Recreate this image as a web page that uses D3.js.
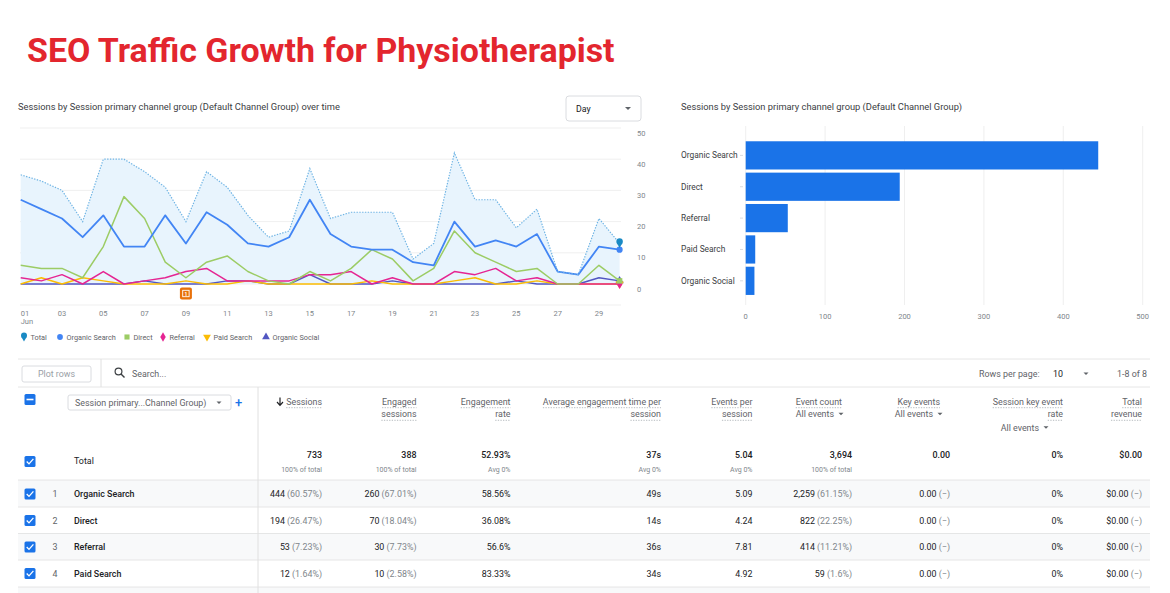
<!DOCTYPE html>
<html>
<head>
<meta charset="utf-8">
<script src="https://cdn.jsdelivr.net/npm/d3@7"></script>
<style>
  body { margin: 0; background: #fff; }
  svg { display: block; font-family: Roboto, "Noto Sans", sans-serif; }
</style>
</head>
<body>
<div id="page"></div>
<script>
// ---- data ----
const days = ["01","02","03","04","05","06","07","08","09","10","11","12","13","14","15",
              "16","17","18","19","20","21","22","23","24","25","26","27","28","29","30"];
const dayTicks = ["01","03","05","07","09","11","13","15","17","19","21","23","25","27","29"];
const yTicks = [0, 10, 20, 30, 40, 50];

const totalSessions    = [35,33,30,20,40,40,36,31,20,36,31,22,15,17,37,21,23,23,23,8,13,42,27,27,18,24,4,3,21,13];
const organicSearch    = [27,24,21,15,22,12,12,22,13,23,19,13,12,15,27,16,12,11,11,7,6,20,12,14,12,16,4,3,12,11];
const directSessions   = [6,5,5,2,12,28,21,7,2,7,9,4,1,0,4,1,5,11,8,1,5,17,10,7,4,5,0,0,6,1];
const referralSessions = [2,1,3,0,4,0,1,2,4,5,1,1,1,1,3,3,4,0,2,0,0,4,3,5,1,2,0,0,0,0];
const paidSessions     = [0,2,0,2,1,0,0,0,1,0,0,1,0,0,0,0,0,1,0,0,0,1,2,0,0,1,0,0,0,0];
const socialSessions   = [0,0,0,0,0,0,1,0,0,0,1,1,0,0,3,0,0,0,1,0,0,0,0,0,1,0,0,0,2,1];
const anomalyDay = "09";

const barChannels = ["Organic Search", "Direct", "Referral", "Paid Search", "Organic Social"];
const barSessions = [444, 194, 53, 12, 11];
const barTicks = [0, 100, 200, 300, 400, 500];

const rowChannels   = ["Organic Search", "Direct", "Referral", "Paid Search"];
const rowSessions   = ["444", "194", "53", "12"];
const rowSessPct    = ["60.57%", "26.47%", "7.23%", "1.64%"];
const rowEngaged    = ["260", "70", "30", "10"];
const rowEngPct     = ["67.01%", "18.04%", "7.73%", "2.58%"];
const rowEngRate    = ["58.56%", "36.08%", "56.6%", "83.33%"];
const rowAvgTime    = ["49s", "14s", "36s", "34s"];
const rowEventsPer  = ["5.09", "4.24", "7.81", "4.92"];
const rowEventCount = ["2,259", "822", "414", "59"];
const rowEventPct   = ["61.15%", "22.25%", "11.21%", "1.6%"];
const rowKeyEvents  = ["0.00", "0.00", "0.00", "0.00"];
const rowKeyRate    = ["0%", "0%", "0%", "0%"];
const rowRevenue    = ["$0.00", "$0.00", "$0.00", "$0.00"];

const totalValues = ["733", "388", "52.93%", "37s", "5.04", "3,694", "0.00", "0%", "$0.00"];
const totalSubs   = ["100% of total", "100% of total", "Avg 0%", "Avg 0%", "Avg 0%", "100% of total", "", "", ""];

// ---- page ----
const W = 1170, H = 593;
const svg = d3.select("#page").append("svg")
  .attr("width", W).attr("height", H);

const textDark = "#202124", textGrey = "#5f6368", gridCol = "#ebebeb";
const fsTable = 8.9;

// headline, sized to span the same width as the report header
const headline = svg.append("text")
  .attr("x", 27).attr("y", 62)
  .attr("fill", "#e3262e")
  .attr("font-size", 29).attr("font-weight", 700)
  .text("SEO Traffic Growth for Physiotherapist");
headline.attr("font-size", 29 * 588 / headline.node().getComputedTextLength());

// ================= line chart =================
const x = d3.scalePoint().domain(days).range([20.7, 619.6]);
const y = d3.scaleLinear().domain([0, 50]).range([284, 128]);

svg.append("text").attr("x", 18).attr("y", 110)
  .attr("font-size", 9.3).attr("fill", "#3c4043")
  .text("Sessions by Session primary channel group (Default Channel Group) over time");

// Day selector
const sel = svg.append("g");
sel.append("rect").attr("x", 566).attr("y", 96).attr("width", 75).attr("height", 25)
  .attr("rx", 3).attr("fill", "#fff").attr("stroke", "#dadce0");
sel.append("text").attr("x", 576).attr("y", 111.5).attr("font-size", 8.8).attr("fill", textDark).text("Day");
sel.append("path").attr("d", "M625,107 l6,0 l-3,3 z").attr("fill", textGrey);

// grid
svg.append("g").selectAll("line").data(yTicks).join("line")
  .attr("x1", 20).attr("x2", 621)
  .attr("y1", d => y(d)).attr("y2", d => y(d))
  .attr("stroke", gridCol).attr("stroke-width", 0.8);
svg.append("line").attr("x1", 20).attr("x2", 621).attr("y1", 305).attr("y2", 305)
  .attr("stroke", gridCol).attr("stroke-width", 0.8);

svg.append("g").selectAll("text").data(yTicks).join("text")
  .attr("x", 637).attr("y", d => y(d) + 5)
  .attr("dominant-baseline", "central")
  .attr("font-size", 7.5).attr("fill", "#80868b")
  .text(d => d);

svg.append("g").selectAll("text").data(dayTicks).join("text")
  .attr("x", d => x(d)).attr("y", 313)
  .attr("dominant-baseline", "central")
  .attr("text-anchor", (d, i) => i === 0 ? "start" : "middle")
  .attr("font-size", 7.5).attr("fill", "#80868b")
  .text(d => d);
svg.append("text").attr("x", x(days[0])).attr("y", 321)
  .attr("dominant-baseline", "central")
  .attr("font-size", 7.5).attr("fill", "#80868b").text("Jun");

const series = [
  { name: "Organic Search", values: organicSearch,    color: "#4285f4", w: 1.8, sym: d3.symbolCircle },
  { name: "Direct",         values: directSessions,   color: "#9ccc65", w: 1.5, sym: d3.symbolSquare },
  { name: "Referral",       values: referralSessions, color: "#e52592", w: 1.5, sym: d3.symbolDiamond },
  { name: "Paid Search",    values: paidSessions,     color: "#fbbc04", w: 1.5, sym: d3.symbolTriangle, rot: 180 },
  { name: "Organic Social", values: socialSessions,   color: "#5257c2", w: 1.5, sym: d3.symbolTriangle }
];

// total area + dotted line
svg.append("path")
  .datum(totalSessions)
  .attr("fill", "#e8f4fd")
  .attr("d", d3.area().x((d, i) => x(days[i])).y0(y(0)).y1(d => y(d)));

// draw small series first so bigger ones sit on top
[...series].reverse().forEach(s => {
  svg.append("path")
    .datum(s.values)
    .attr("fill", "none")
    .attr("stroke", s.color)
    .attr("stroke-width", s.w)
    .attr("stroke-linejoin", "round")
    .attr("d", d3.line().x((d, i) => x(days[i])).y(d => y(d)));
});

svg.append("path")
  .datum(totalSessions)
  .attr("fill", "none")
  .attr("stroke", "#6fb4e4")
  .attr("stroke-width", 1.2)
  .attr("stroke-dasharray", "1.4,1.4")
  .attr("d", d3.line().x((d, i) => x(days[i])).y(d => y(d)));

// end markers
const lastDay = days[days.length - 1];
[...series].reverse().forEach(s => {
  const v = s.values[s.values.length - 1];
  svg.append("path")
    .attr("d", d3.symbol().type(s.sym).size(30)())
    .attr("transform", `translate(${x(lastDay)},${y(v)}) rotate(${s.rot || 0})`)
    .attr("fill", s.color);
});
function pin(g, cx, cy, r, col) {
  g.append("circle").attr("cx", cx).attr("cy", cy - r * 0.3).attr("r", r).attr("fill", col);
  g.append("path").attr("d", `M${cx - r * 0.9},${cy + r * 0.1} L${cx + r * 0.9},${cy + r * 0.1} L${cx},${cy + r * 1.7} Z`).attr("fill", col);
}
pin(svg, x(lastDay), y(totalSessions[totalSessions.length - 1]) - 1, 3.2, "#1a8ac4");

// anomaly badge
const ax = x(anomalyDay);
svg.append("rect").attr("x", ax - 6).attr("y", 287.5).attr("width", 12).attr("height", 12)
  .attr("rx", 2).attr("fill", "#e8710a");
svg.append("rect").attr("x", ax - 3.2).attr("y", 290.3).attr("width", 6.4).attr("height", 6.4)
  .attr("fill", "none").attr("stroke", "#fff").attr("stroke-width", 0.9);
svg.append("text").attr("x", ax).attr("y", 293.6).attr("text-anchor", "middle")
  .attr("dominant-baseline", "central").attr("font-size", 5).attr("font-weight", 700)
  .attr("fill", "#fff").text("1");

// legend
const legendItems = [{ name: "Total", color: "#1a8ac4", total: true }].concat(series);
const legendX = [24, 60, 127, 163, 207, 266];
const lg = svg.append("g");
legendItems.forEach((s, i) => {
  const lx = legendX[i], ly = 337;
  if (s.total) pin(lg, lx, ly - 0.5, 3, s.color);
  else lg.append("path")
    .attr("d", d3.symbol().type(s.sym).size(26)())
    .attr("transform", `translate(${lx},${ly}) rotate(${s.rot || 0})`)
    .attr("fill", s.color);
  lg.append("text").attr("x", lx + 6.5).attr("y", ly).attr("dominant-baseline", "central")
    .attr("font-size", 7.3).attr("fill", textGrey).text(s.name);
});

// ================= bar chart =================
svg.append("text").attr("x", 681).attr("y", 110)
  .attr("font-size", 9.3).attr("fill", "#3c4043")
  .text("Sessions by Session primary channel group (Default Channel Group)");

const bx = d3.scaleLinear().domain([0, 500]).range([745.7, 1142.7]);
const by = d3.scaleBand().domain(barChannels).range([139.7, 296.5]).paddingInner(0.1).paddingOuter(0.05);

svg.append("g").selectAll("line").data(barTicks).join("line")
  .attr("x1", d => bx(d)).attr("x2", d => bx(d))
  .attr("y1", 126).attr("y2", 305)
  .attr("stroke", gridCol).attr("stroke-width", 0.8);
svg.append("g").selectAll("text").data(barTicks).join("text")
  .attr("x", d => bx(d)).attr("y", 316)
  .attr("text-anchor", "middle").attr("dominant-baseline", "central")
  .attr("font-size", 7.5).attr("fill", "#80868b").text(d => d);

svg.append("g").selectAll("rect").data(barChannels).join("rect")
  .attr("x", bx(0))
  .attr("y", d => by(d))
  .attr("width", (d, i) => bx(barSessions[i]) - bx(0))
  .attr("height", by.bandwidth())
  .attr("fill", "#1a73e8");

svg.append("g").selectAll("line").data(barChannels).join("line")
  .attr("x1", 740).attr("x2", 743)
  .attr("y1", d => by(d) + by.bandwidth() / 2).attr("y2", d => by(d) + by.bandwidth() / 2)
  .attr("stroke", "#dadce0");
svg.append("g").selectAll("text").data(barChannels).join("text")
  .attr("x", 681).attr("y", d => by(d) + by.bandwidth() / 2)
  .attr("dominant-baseline", "central")
  .attr("font-size", 8.4).attr("fill", "#3c4043").text(d => d);

// ================= table =================
const lineCol = "#e0e0e0";
const hline = yy => svg.append("line").attr("x1", 18).attr("x2", 1150).attr("y1", yy).attr("y2", yy)
  .attr("stroke", lineCol).attr("stroke-width", 0.8);

// zebra rows
const rowTop = [480, 507, 533.5, 560, 587];
svg.append("rect").attr("x", 18).attr("y", rowTop[0]).attr("width", 1132).attr("height", rowTop[1] - rowTop[0]).attr("fill", "#f8f9fa");
svg.append("rect").attr("x", 18).attr("y", rowTop[2]).attr("width", 1132).attr("height", rowTop[3] - rowTop[2]).attr("fill", "#f8f9fa");
svg.append("rect").attr("x", 18).attr("y", rowTop[4]).attr("width", 1132).attr("height", 6).attr("fill", "#f8f9fa");

hline(359); hline(387);
rowTop.forEach(hline);
svg.append("line").attr("x1", 101).attr("x2", 101).attr("y1", 359).attr("y2", 387).attr("stroke", lineCol);
svg.append("line").attr("x1", 258).attr("x2", 258).attr("y1", 387).attr("y2", 593).attr("stroke", lineCol);

// toolbar
svg.append("rect").attr("x", 22).attr("y", 366).attr("width", 69).attr("height", 16).attr("rx", 2)
  .attr("fill", "#fff").attr("stroke", "#dadce0");
svg.append("text").attr("x", 56.5).attr("y", 374).attr("text-anchor", "middle").attr("dominant-baseline", "central")
  .attr("font-size", fsTable).attr("fill", "#9aa0a6").text("Plot rows");
svg.append("circle").attr("cx", 118.5).attr("cy", 371.5).attr("r", 3.4).attr("fill", "none").attr("stroke", "#3c4043").attr("stroke-width", 1.2);
svg.append("line").attr("x1", 121).attr("y1", 374).attr("x2", 124.5).attr("y2", 377.5).attr("stroke", "#3c4043").attr("stroke-width", 1.4);
svg.append("text").attr("x", 132).attr("y", 374).attr("dominant-baseline", "central")
  .attr("font-size", fsTable).attr("fill", textGrey).text("Search...");
svg.append("text").attr("x", 979).attr("y", 374).attr("dominant-baseline", "central")
  .attr("font-size", fsTable).attr("fill", textGrey).text("Rows per page:");
svg.append("text").attr("x", 1053).attr("y", 374).attr("dominant-baseline", "central")
  .attr("font-size", fsTable).attr("fill", textDark).text("10");
svg.append("path").attr("d", "M1083.5,372.5 l5,0 l-2.5,2.5 z").attr("fill", textGrey);
svg.append("text").attr("x", 1147).attr("y", 374).attr("text-anchor", "end").attr("dominant-baseline", "central")
  .attr("font-size", fsTable).attr("fill", textGrey).text("1-8 of 8");

// checkboxes
function checkbox(cx, cy, minus) {
  svg.append("rect").attr("x", cx - 5.5).attr("y", cy - 5.5).attr("width", 11).attr("height", 11)
    .attr("rx", 1.5).attr("fill", "#1a73e8");
  if (minus) svg.append("line").attr("x1", cx - 3.5).attr("x2", cx + 3.5).attr("y1", cy).attr("y2", cy)
    .attr("stroke", "#fff").attr("stroke-width", 1.6);
  else svg.append("path").attr("d", `M${cx - 3.3},${cy} L${cx - 1},${cy + 2.4} L${cx + 3.4},${cy - 2.6}`)
    .attr("fill", "none").attr("stroke", "#fff").attr("stroke-width", 1.3);
}
checkbox(30, 399.5, true);

// dimension picker
svg.append("rect").attr("x", 68).attr("y", 395).attr("width", 163).attr("height", 15).attr("rx", 2)
  .attr("fill", "#fff").attr("stroke", "#dadce0");
svg.append("text").attr("x", 75).attr("y", 402.5).attr("dominant-baseline", "central")
  .attr("font-size", fsTable).attr("fill", textGrey).text("Session primary...Channel Group)");
svg.append("path").attr("d", "M216.5,401.5 l5,0 l-2.5,2.5 z").attr("fill", textGrey);
svg.append("text").attr("x", 238.5).attr("y", 402.5).attr("text-anchor", "middle").attr("dominant-baseline", "central")
  .attr("font-size", 13).attr("font-weight", 500).attr("fill", "#1a73e8").text("+");

// metric headers: lines, optional dropdown caption
const colRight = [322, 416.5, 510.5, 661, 752.5, 852, 950, 1063, 1142];
const headerLines = [
  ["Sessions"], ["Engaged", "sessions"], ["Engagement", "rate"],
  ["Average engagement time per", "session"], ["Events per", "session"],
  ["Event count"], ["Key events"], ["Session key event", "rate"], ["Total", "revenue"]
];
const headerY = [401.7, 414.3, 427.7];
headerLines.forEach((lines, c) => {
  const hx = (c === 5 || c === 6) ? colRight[c] - 10 : colRight[c];
  lines.forEach((t, li) => {
    const tx = svg.append("text").attr("x", hx).attr("y", headerY[li])
      .attr("text-anchor", "end").attr("dominant-baseline", "central")
      .attr("font-size", fsTable).attr("fill", textGrey).text(t);
    const wdt = tx.node().getComputedTextLength();
    svg.append("line").attr("x1", hx - wdt).attr("x2", hx)
      .attr("y1", headerY[li] + 6).attr("y2", headerY[li] + 6)
      .attr("stroke", "#9aa0a6").attr("stroke-width", 0.7).attr("stroke-dasharray", "1.3,1.3");
  });
});
// sort arrow on Sessions
svg.append("path").attr("d", "M280,397.5 L280,405 M277,402 L280,405.3 L283,402")
  .attr("fill", "none").attr("stroke", textDark).attr("stroke-width", 1.2);
// "All events" dropdown captions
function allEvents(xr, yy) {
  svg.append("text").attr("x", xr - 10).attr("y", yy).attr("text-anchor", "end").attr("dominant-baseline", "central")
    .attr("font-size", fsTable).attr("fill", textGrey).text("All events");
  svg.append("path").attr("d", `M${xr - 5.5},${yy - 1.5} l5,0 l-2.5,2.5 z`).attr("fill", textGrey);
}
allEvents(colRight[5] - 8, headerY[1]);
allEvents(colRight[6] - 7, headerY[1]);
allEvents(1049, headerY[2]);

// total row
checkbox(30, 461.5, false);
svg.append("text").attr("x", 74).attr("y", 461).attr("dominant-baseline", "central")
  .attr("font-size", fsTable).attr("fill", textDark).text("Total");
totalValues.forEach((v, c) => {
  svg.append("text").attr("x", colRight[c]).attr("y", 455).attr("text-anchor", "end").attr("dominant-baseline", "central")
    .attr("font-size", fsTable).attr("font-weight", 500).attr("fill", textDark).text(v);
  if (totalSubs[c]) svg.append("text").attr("x", colRight[c]).attr("y", 470).attr("text-anchor", "end")
    .attr("dominant-baseline", "central").attr("font-size", 7).attr("fill", "#80868b").text(totalSubs[c]);
});

// channel rows
const rowMid = [494, 520.5, 547, 573.5];
function cell(c, yy, main, extra) {
  const t = svg.append("text").attr("x", colRight[c]).attr("y", yy).attr("text-anchor", "end")
    .attr("dominant-baseline", "central").attr("font-size", fsTable).attr("fill", textDark);
  t.append("tspan").text(main);
  if (extra) t.append("tspan").attr("fill", "#80868b").text(" " + extra);
}
rowChannels.forEach((name, r) => {
  const yy = rowMid[r];
  checkbox(30, yy, false);
  svg.append("text").attr("x", 55).attr("y", yy).attr("text-anchor", "middle").attr("dominant-baseline", "central")
    .attr("font-size", fsTable).attr("fill", textGrey).text(r + 1);
  svg.append("text").attr("x", 74).attr("y", yy).attr("dominant-baseline", "central")
    .attr("font-size", fsTable).attr("font-weight", 500).attr("fill", textDark).text(name);
  cell(0, yy, rowSessions[r], `(${rowSessPct[r]})`);
  cell(1, yy, rowEngaged[r], `(${rowEngPct[r]})`);
  cell(2, yy, rowEngRate[r]);
  cell(3, yy, rowAvgTime[r]);
  cell(4, yy, rowEventsPer[r]);
  cell(5, yy, rowEventCount[r], `(${rowEventPct[r]})`);
  cell(6, yy, rowKeyEvents[r], "(\u2212)");
  cell(7, yy, rowKeyRate[r]);
  cell(8, yy, rowRevenue[r], "(\u2212)");
});
</script>
</body>
</html>
